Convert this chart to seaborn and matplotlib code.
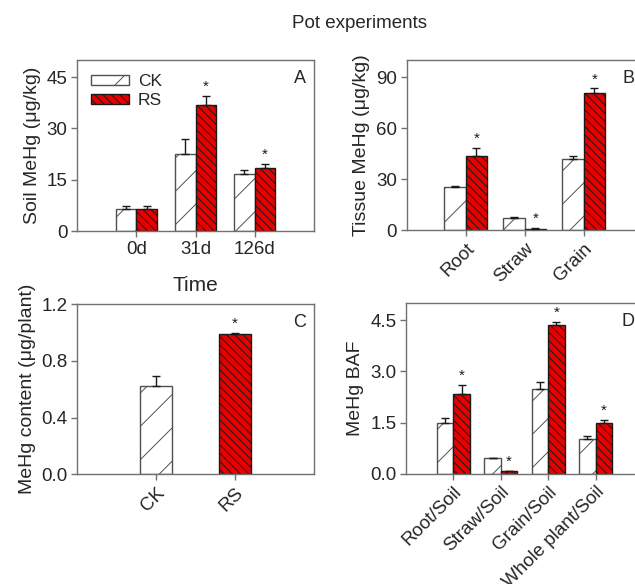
import matplotlib
matplotlib.use('Agg')
import matplotlib.pyplot as plt
import seaborn as sns
import pandas as pd
from matplotlib.patches import Patch

sns.set_theme(style='white')
plt.rcParams['font.family'] = ['Liberation Sans', 'DejaVu Sans']
plt.rcParams['hatch.linewidth'] = 0.7

# ---------------- data ----------------
treatments = ['CK', 'RS']

times = ['0d', '31d', '126d']
soil_ck = [6.3, 22.6, 16.6]
soil_rs = [6.3, 36.9, 18.5]
soil_ck_err = [0.9, 4.3, 1.2]
soil_rs_err = [0.9, 2.7, 1.0]
soil_star = [False, True, True]

tissues = ['Root', 'Straw', 'Grain']
tissue_ck = [25.3, 7.4, 41.8]
tissue_rs = [43.5, 1.0, 80.9]
tissue_ck_err = [0.9, 0.5, 1.9]
tissue_rs_err = [5.0, 0.3, 2.4]
tissue_star = [True, True, True]

content_vals = [0.621, 0.990]
content_err = [0.075, 0.005]
content_star = [False, True]

baf_cats = ['Root/Soil', 'Straw/Soil', 'Grain/Soil', 'Whole plant/Soil']
baf_ck = [1.50, 0.45, 2.49, 1.01]
baf_rs = [2.35, 0.07, 4.36, 1.48]
baf_ck_err = [0.12, 0.01, 0.20, 0.09]
baf_rs_err = [0.25, 0.02, 0.09, 0.09]
baf_star = [True, True, True, True]

# ---------------- style ----------------
RED = '#e80000'
SPINE = '#707070'
colors = {'CK': 'white', 'RS': RED}
edges = {'CK': '#505050', 'RS': '#1a1a1a'}
hatches = {'CK': '/', 'RS': '\\\\\\\\'}
W, H = 635, 584


def make_ax(fig, x0, y0, x1, y1):
    return fig.add_axes([x0 / W, 1 - y1 / H, (x1 - x0) / W, (y1 - y0) / H])


def style_ax(ax):
    for s in ax.spines.values():
        s.set_color(SPINE)
        s.set_linewidth(1.0)
    ax.tick_params(axis='both', which='major', direction='out', length=4,
                   width=1, color=SPINE, labelsize=13.5, pad=3,
                   bottom=True, left=True)
    ax.set_xlabel('')


def annotate_bars(ax, container, err, stars):
    xs, ys = [], []
    for p in container.patches:
        xs.append(p.get_x() + p.get_width() / 2)
        ys.append(p.get_height())
    ax.errorbar(xs, ys, yerr=[[0] * len(err), err], fmt='none',
                ecolor='#1a1a1a', elinewidth=1.0, capsize=3, capthick=1.0,
                zorder=3)
    for x, y, e, s in zip(xs, ys, err, stars):
        if s:
            ax.annotate('*', (x, y + e), xytext=(0, 1.5),
                        textcoords='offset points', ha='center', va='bottom',
                        fontsize=11, color='#1a1a1a')


def grouped(ax, cats, ck, rs, ck_err, rs_err, stars, width):
    df = pd.DataFrame({
        'cat': cats * 2,
        'trt': ['CK'] * len(cats) + ['RS'] * len(cats),
        'val': list(ck) + list(rs),
    })
    sns.barplot(data=df, x='cat', y='val', hue='trt', order=cats,
                hue_order=treatments, palette=colors, saturation=1,
                width=width, errorbar=None, legend=False, ax=ax,
                linewidth=1.0)
    conts = list(ax.containers[:2])
    for trt, cont in zip(treatments, conts):
        for p in cont.patches:
            p.set_edgecolor(edges[trt])
            p.set_hatch(hatches[trt])
            p.set_linewidth(1.0)
    annotate_bars(ax, conts[0], ck_err, [False] * len(cats))
    annotate_bars(ax, conts[1], rs_err, stars)


def letter(ax, t):
    ax.annotate(t, (1, 1), xycoords='axes fraction', xytext=(-6, -7),
                textcoords='offset points', ha='right', va='top',
                fontsize=13)


fig = plt.figure(figsize=(W / 100, H / 100), dpi=100)
fig.text(360 / W, 1 - 24 / H, 'Pot experiments', ha='center', va='center',
         fontsize=13.5)

# ---- A ----
axA = make_ax(fig, 77, 60, 314, 231)
grouped(axA, times, soil_ck, soil_rs, soil_ck_err, soil_rs_err, soil_star, 0.70)
axA.set_xlim(-1, 3)
axA.set_ylim(0, 50)
axA.set_yticks([0, 15, 30, 45])
style_ax(axA)
axA.set_ylabel('Soil MeHg (\u03bcg/kg)', fontsize=14)
axA.set_xlabel('Time', fontsize=15, labelpad=13)
letter(axA, 'A')
handles = [Patch(facecolor=colors[t], edgecolor=edges[t], hatch=hatches[t],
                 linewidth=1.0) for t in treatments]
axA.legend(handles, treatments, loc='upper left', frameon=False,
           fontsize=12.5, handlelength=2.2, handleheight=0.5,
           bbox_to_anchor=(0.0, 1.0), borderaxespad=0.4, labelspacing=0.25,
           handletextpad=0.5)

# ---- B ----
axB = make_ax(fig, 406.7, 60, 642.7, 230.3)
grouped(axB, tissues, tissue_ck, tissue_rs, tissue_ck_err, tissue_rs_err,
        tissue_star, 0.72)
axB.set_xlim(-1, 3)
axB.set_ylim(0, 100)
axB.set_yticks([0, 30, 60, 90])
style_ax(axB)
axB.set_ylabel('Tissue MeHg (\u03bcg/kg)', fontsize=14)
plt.setp(axB.get_xticklabels(), rotation=45, ha='right',
         rotation_mode='anchor')
letter(axB, 'B')

# ---- C ----
axC = make_ax(fig, 77.3, 304.3, 314, 474.3)
dfC = pd.DataFrame({'trt': treatments, 'val': content_vals})
sns.barplot(data=dfC, x='trt', y='val', hue='trt', order=treatments,
            hue_order=treatments, palette=colors, saturation=1, width=0.41,
            errorbar=None, legend=False, ax=axC, dodge=False, linewidth=1.0)
contsC = list(axC.containers[:2])
for trt, cont in zip(treatments, contsC):
    for p in cont.patches:
        p.set_edgecolor(edges[trt])
        p.set_hatch(hatches[trt])
for i, cont in enumerate(contsC):
    annotate_bars(axC, cont, [content_err[i]], [content_star[i]])
axC.set_xlim(-1, 2)
axC.set_ylim(0, 1.2)
axC.set_yticks([0, 0.4, 0.8, 1.2])
axC.set_yticklabels(['0.0', '0.4', '0.8', '1.2'])
style_ax(axC)
axC.set_ylabel('MeHg content (\u03bcg/plant)', fontsize=14)
plt.setp(axC.get_xticklabels(), rotation=45, ha='right',
         rotation_mode='anchor')
letter(axC, 'C')

# ---- D ----
axD = make_ax(fig, 406, 303.3, 643, 473.7)
grouped(axD, baf_cats, baf_ck, baf_rs, baf_ck_err, baf_rs_err, baf_star, 0.70)
axD.set_xlim(-1, 4)
axD.set_ylim(0, 5)
axD.set_yticks([0, 1.5, 3.0, 4.5])
axD.set_yticklabels(['0.0', '1.5', '3.0', '4.5'])
style_ax(axD)
axD.set_ylabel('MeHg BAF', fontsize=14)
plt.setp(axD.get_xticklabels(), rotation=45, ha='right',
         rotation_mode='anchor')
letter(axD, 'D')

fig.savefig('out.png', dpi=100)
